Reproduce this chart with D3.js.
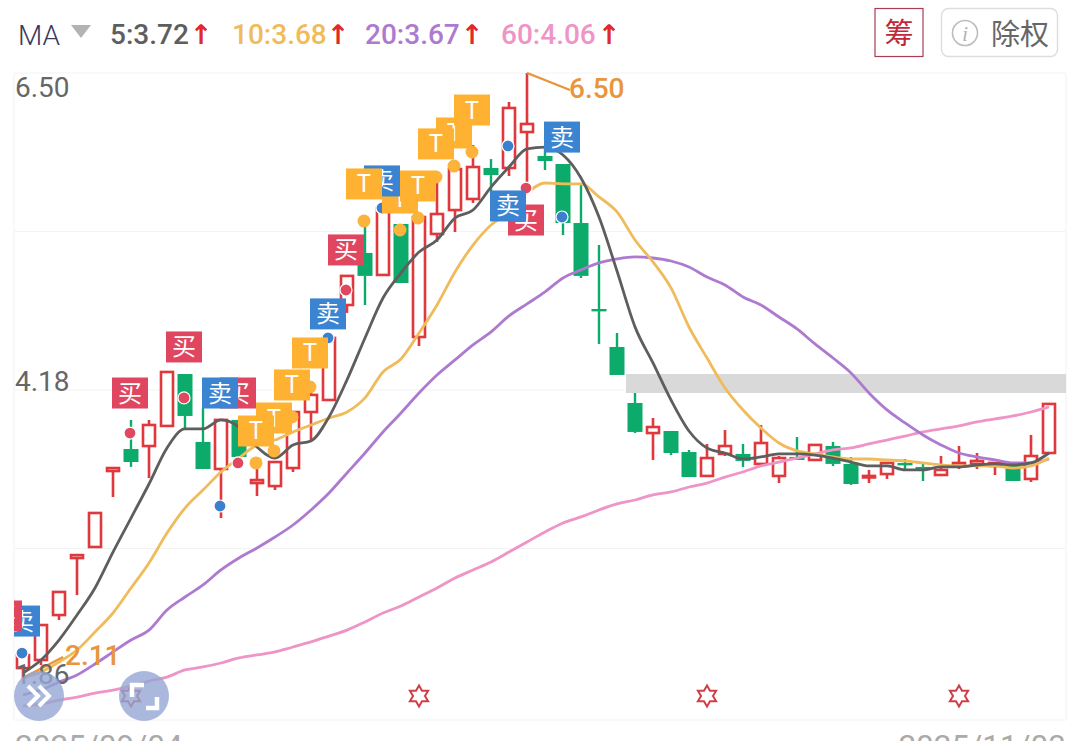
<!DOCTYPE html>
<html><head><meta charset="utf-8">
<script src="https://cdn.jsdelivr.net/npm/d3@7"></script>
<style>html,body{margin:0;padding:0;background:#fff;overflow:hidden}svg{display:block}
text{font-family:Roboto,"Noto Sans",sans-serif}</style></head><body>
<svg id="c" width="1080" height="741"></svg>
<script>
const opens=[2.145,2.204,2.533,2.950,3.031,3.587,3.748,3.770,3.917,4.297,3.800,3.602,3.961,3.499,3.477,3.609,4.019,4.107,4.802,5.183,5.022,5.395,4.568,5.322,5.497,5.578,5.805,5.805,6.068,5.893,5.834,5.402,4.773,4.495,4.085,3.865,3.880,3.726,3.551,3.712,3.712,3.639,3.551,3.690,3.668,3.770,3.639,3.543,3.565,3.646,3.617,3.558,3.624,3.639,3.624,3.631,3.529,3.719];
const closes=[2.240,2.460,2.702,2.972,3.280,3.609,3.653,3.924,4.312,3.990,3.602,3.961,3.690,3.521,3.653,4.019,4.144,4.561,5.015,5.015,5.512,4.963,5.446,5.468,5.797,5.812,5.753,6.244,6.127,5.856,5.402,5.015,4.766,4.290,3.873,3.909,3.719,3.543,3.682,3.770,3.661,3.792,3.682,3.668,3.778,3.639,3.492,3.551,3.646,3.631,3.595,3.595,3.646,3.661,3.646,3.514,3.697,4.078];
const highs=[2.292,2.460,2.702,2.972,3.280,3.609,3.961,3.961,4.312,4.297,4.048,3.961,3.961,3.631,3.653,4.019,4.166,4.561,5.015,5.410,5.512,5.395,5.446,5.753,5.827,5.973,5.870,6.288,6.500,5.951,5.834,5.680,5.241,4.597,4.158,3.975,3.880,3.741,3.785,3.887,3.785,3.924,3.697,3.836,3.778,3.800,3.690,3.595,3.646,3.675,3.639,3.697,3.770,3.719,3.646,3.631,3.851,4.078];
const lows=[2.072,2.167,2.497,2.679,3.031,3.397,3.617,3.536,3.917,3.895,3.602,3.243,3.690,3.404,3.448,3.580,3.807,4.107,4.744,4.802,5.022,4.963,4.502,5.263,5.336,5.549,5.622,5.746,5.665,5.790,5.314,5.000,4.517,4.290,3.865,3.668,3.704,3.543,3.551,3.697,3.617,3.639,3.499,3.668,3.668,3.624,3.485,3.499,3.529,3.595,3.514,3.558,3.602,3.602,3.558,3.514,3.507,3.719];
const ma5=[2.109,2.204,2.350,2.533,2.731,2.994,3.243,3.492,3.756,3.895,3.895,3.961,3.909,3.763,3.682,3.778,3.807,3.983,4.254,4.561,4.853,5.037,5.190,5.278,5.439,5.497,5.665,5.812,5.944,5.958,5.900,5.732,5.446,5.051,4.642,4.378,4.107,3.880,3.756,3.719,3.675,3.690,3.712,3.712,3.704,3.682,3.653,3.624,3.624,3.595,3.595,3.617,3.617,3.631,3.639,3.631,3.646,3.719];
const ma10=[2.072,2.116,2.189,2.277,2.409,2.548,2.731,2.914,3.133,3.316,3.448,3.580,3.682,3.778,3.814,3.873,3.924,3.975,4.019,4.122,4.312,4.407,4.597,4.802,5.044,5.241,5.388,5.483,5.622,5.695,5.688,5.688,5.593,5.483,5.278,5.117,4.927,4.641,4.414,4.195,4.034,3.902,3.792,3.734,3.712,3.690,3.675,3.675,3.668,3.661,3.646,3.631,3.624,3.624,3.624,3.609,3.624,3.682];
const ma20=[1.948,1.984,2.043,2.094,2.175,2.263,2.350,2.423,2.570,2.665,2.753,2.863,2.950,3.024,3.104,3.192,3.302,3.426,3.573,3.719,3.873,4.012,4.158,4.290,4.400,4.510,4.605,4.722,4.810,4.898,5.000,5.059,5.110,5.139,5.154,5.146,5.124,5.080,5.007,4.949,4.861,4.802,4.714,4.627,4.517,4.414,4.305,4.158,4.034,3.939,3.851,3.778,3.719,3.690,3.668,3.646,3.646,3.675];
const ma60=[1.867,1.882,1.911,1.933,1.962,1.984,2.013,2.050,2.079,2.131,2.153,2.182,2.219,2.241,2.263,2.299,2.336,2.379,2.423,2.482,2.548,2.599,2.665,2.731,2.804,2.863,2.921,2.994,3.068,3.141,3.207,3.251,3.302,3.346,3.375,3.412,3.434,3.470,3.499,3.543,3.580,3.624,3.653,3.682,3.712,3.741,3.756,3.785,3.814,3.843,3.873,3.895,3.917,3.946,3.968,3.990,4.019,4.056];
const signalKinds=["买","买","买","卖","卖","买","T","卖","T","T","T","T","T","T","T","T","T","买","卖","卖","卖"];
const signalIndex=[6,9,12,11,17,18,21,20,19,22,24,23,25,14,13,15,16,28,27,30,0];
const signalDot=[3.865,4.122,3.646,3.331,4.561,4.912,5.351,5.512,5.417,5.439,5.819,5.739,5.922,3.734,3.646,3.983,4.202,5.658,5.966,5.446,2.255];
const signalBox=[4.158,4.495,4.158,4.158,4.737,5.205,5.585,5.710,5.688,5.673,6.061,5.981,6.229,3.975,3.880,4.217,4.451,5.424,5.527,6.031,2.489];
const edgeBuy={kind:"买",index:-1,box:2.526};
const starIndex=[6,22,38,52];
const bandPrice=[4.297,4.158];
const bandStart=33.5;
const axisLabels=["6.50","4.18","1.86"];
const gridPrices=[6.50,5.34,4.18,3.02];
const maNames=["5:3.72","10:3.68","20:3.67","60:4.06"];
const dateLabels=["2025/09/04","2025/11/03"];

const maColors=["#5e5e5e","#f0bb5a","#ad7ad0","#ee94c6"];
const RED="#e0383c",GREEN="#0dab6b",ORANGE="#e8953c";
const svg=d3.select("#c");
const x=d3.scaleLinear().domain([0,57]).range([23,1049]);
const y=d3.scaleLinear().domain([6.5,4.18]).range([73,390]);
const L=14,R=1066,T=73,B=720;
svg.append("defs").append("clipPath").attr("id","plot").append("rect").attr("x",L).attr("y",T-1).attr("width",R-L).attr("height",B-T+1);

// frame
const frame=svg.append("g").attr("stroke","#f3f3f3").attr("stroke-width",1.2);
gridPrices.forEach(p=>frame.append("line").attr("x1",L).attr("x2",R).attr("y1",y(p)).attr("y2",y(p)));
frame.append("line").attr("x1",L).attr("x2",R).attr("y1",B).attr("y2",B);
frame.append("line").attr("x1",L).attr("x2",L).attr("y1",T).attr("y2",B);
frame.append("line").attr("x1",R).attr("x2",R).attr("y1",T).attr("y2",B);

const plot=svg.append("g").attr("clip-path","url(#plot)");
plot.append("rect").attr("x",x(bandStart)).attr("width",R-x(bandStart)).attr("y",y(bandPrice[0])).attr("height",y(bandPrice[1])-y(bandPrice[0])).attr("fill","#d9d9d9");

// candles
const idx=d3.range(opens.length);
const cg=plot.selectAll("g.k").data(idx).join("g").attr("class","k");
cg.each(function(i){
  const g=d3.select(this),up=closes[i]>=opens[i],col=up?RED:GREEN;
  const top=y(Math.max(opens[i],closes[i])),bot=y(Math.min(opens[i],closes[i]));
  const xc=x(i);
  g.append("line").attr("x1",xc).attr("x2",xc).attr("y1",y(highs[i])).attr("y2",top).attr("stroke",col).attr("stroke-width",up?2.6:2.4);
  g.append("line").attr("x1",xc).attr("x2",xc).attr("y1",bot).attr("y2",y(lows[i])).attr("stroke",col).attr("stroke-width",up?2.6:2.4);
  if(up) g.append("rect").attr("x",xc-6).attr("width",12).attr("y",top).attr("height",Math.max(bot-top,1.5)).attr("fill","#fff").attr("stroke",col).attr("stroke-width",2.6);
  else g.append("rect").attr("x",xc-7.5).attr("width",15).attr("y",top).attr("height",Math.max(bot-top,2.4)).attr("fill",col);
});

// low annotation (under lines)
const axisG=svg.append("g");
axisG.append("text").attr("x",15).attr("y",684).attr("font-size",28).attr("fill","#666").text(axisLabels[2]);

// moving averages
const line=d3.line().x((d,i)=>x(i)).y(d=>y(d)).curve(d3.curveMonotoneX);
const lowLeader=[[x(0),y(lows[0])],[x(0)+40,y(lows[0])-21]];
[ma60,ma20,ma10,ma5].forEach((s,j)=>{
  plot.append("path").attr("d",line(s)).attr("fill","none").attr("stroke",maColors[3-j]).attr("stroke-width",2.8).attr("stroke-linejoin","round");
});
// high / low leaders
plot.append("path").attr("d",d3.line()([[x(28),y(6.5)],[x(28)+43,y(6.5)+17]])).attr("stroke",ORANGE).attr("stroke-width",2.4).attr("fill","none");
plot.append("path").attr("d",d3.line()(lowLeader)).attr("stroke",ORANGE).attr("stroke-width",2.4).attr("fill","none");

// dots
const dotCol={"买":"#e0485f","卖":"#3b7fcf","T":"#fbb33b"};
signalIndex.forEach((s,i)=>{
  const k=signalKinds[i];
  plot.append("circle").attr("cx",x(s)-1).attr("cy",y(signalDot[i])).attr("r",k==="T"?6.5:6).attr("fill",dotCol[k]).attr("stroke","#fff").attr("stroke-width",k==="T"?0:1.2);
});
// signal boxes
const boxCol={"买":"#e0465f","卖":"#3a84d2","T":"#ffb232"};
function box(kind,index,price){
  const g=plot.append("g").attr("transform",`translate(${x(index)-1},${y(price)})`);
  g.append("rect").attr("x",-18).attr("y",-15.5).attr("width",36).attr("height",31).attr("fill",boxCol[kind]);
  g.append("text").attr("text-anchor","middle").attr("y",kind==="T"?8.5:8.5).attr("font-size",kind==="T"?24:24).attr("fill","#fff").attr("font-weight",400)
   .style("font-family",'"Noto Sans CJK SC",sans-serif').text(kind);
}
signalIndex.forEach((s,i)=>box(signalKinds[i],s,signalBox[i]));
box(edgeBuy.kind,edgeBuy.index,edgeBuy.box);

// stars
const starPts=d3.range(12).map(i=>[(i%2?6:10.5)*Math.sin(i*Math.PI/6),-(i%2?6:10.5)*Math.cos(i*Math.PI/6)]);
starIndex.forEach(s=>{
  svg.append("path").attr("transform",`translate(${x(s)},696)`).attr("d",d3.line()(starPts)+"Z").attr("fill","none").attr("stroke","#cf3f48").attr("stroke-width",2);
});

// labels
const lab=svg.append("g").attr("font-size",28);
lab.append("text").attr("x",15).attr("y",97).attr("fill","#666").text(axisLabels[0]);
lab.append("text").attr("x",15).attr("y",391).attr("fill","#666").text(axisLabels[1]);
lab.append("text").attr("x",x(28)+42).attr("y",98).attr("fill",ORANGE).attr("font-weight",500).text(d3.format(".2f")(highs[28]));
lab.append("text").attr("x",65).attr("y",665).attr("fill",ORANGE).attr("font-weight",500).text("2.11");

// overlay round buttons
[39,144].forEach(cx=>svg.append("circle").attr("cx",cx).attr("cy",696).attr("r",25).attr("fill","#94a6d3").attr("fill-opacity",.8));
svg.append("path").attr("d","M28,686L38,696L28,706M39,686L49,696L39,706").attr("fill","none").attr("stroke","#fff").attr("stroke-width",4);
svg.append("path").attr("d","M144,685H132V697M146,708H157V697").attr("fill","none").attr("stroke","#fff").attr("stroke-width",4.5);

// date labels (cut by the window bottom)
svg.append("text").attr("x",15).attr("y",757).attr("font-size",31.5).attr("fill","#aaa").text(dateLabels[0]);
svg.append("text").attr("x",1066).attr("y",757).attr("text-anchor","end").attr("font-size",31.5).attr("fill","#aaa").text(dateLabels[1]);

// header
const hdr=svg.append("g");
hdr.append("text").attr("x",18).attr("y",45).attr("font-size",28).attr("fill","#3a3a5c").attr("font-weight",300).text("MA");
hdr.append("path").attr("d","M71,25H91L81,38Z").attr("fill","#b3b3b3");
const maX=[110,232,365,501],arrowX=[201,338,472,609];
const headCol=["#5e5e5e","#f0bb5a","#ad7ad0","#ee94c6"];
maNames.forEach((t,i)=>{
  hdr.append("text").attr("x",maX[i]).attr("y",44).attr("font-size",28).attr("font-weight",500).attr("fill",headCol[i]).text(t);
  hdr.append("text").attr("x",arrowX[i]).attr("y",44).attr("text-anchor","middle").attr("font-size",27).attr("font-weight",700).attr("fill","#e02a2a").style("font-family","'DejaVu Sans'").text("↑");
});
hdr.append("rect").attr("x",875).attr("y",8.5).attr("width",48).attr("height",48).attr("fill","#fff").attr("stroke","#a83c52").attr("stroke-width",1.2);
hdr.append("text").attr("x",899).attr("y",44).attr("text-anchor","middle").attr("font-size",29).attr("fill","#c0283c").style("font-family",'"Noto Sans CJK SC"').text("筹");
hdr.append("rect").attr("x",941.5).attr("y",8.5).attr("width",116).attr("height",48).attr("rx",7).attr("fill","#fff").attr("stroke","#ddd").attr("stroke-width",1.4);
hdr.append("circle").attr("cx",965).attr("cy",33).attr("r",12.5).attr("fill","none").attr("stroke","#bdbdbd").attr("stroke-width",1.6);
hdr.append("text").attr("x",965).attr("y",41).attr("text-anchor","middle").attr("font-size",22).attr("font-style","italic").attr("fill","#b5b5b5").style("font-family","'Liberation Serif'").text("i");
hdr.append("text").attr("x",991).attr("y",45).attr("font-size",29).attr("fill","#666").style("font-family",'"Noto Sans CJK SC"').text("除权");
</script></body></html>
